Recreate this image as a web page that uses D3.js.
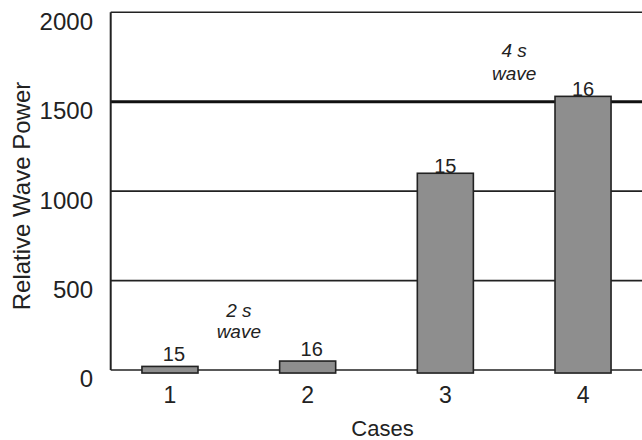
<!DOCTYPE html>
<html>
<head>
<meta charset="utf-8">
<script src="https://cdn.jsdelivr.net/npm/d3@7"></script>
<style>
  html, body { margin: 0; padding: 0; background: #fff; }
  svg { display: block; font-family: "Liberation Sans", Arial, Helvetica, sans-serif; }
</style>
</head>
<body>
<svg id="chart" width="642" height="440"></svg>
<script>
// Relative wave power for each test case
const cases = ["1", "2", "3", "4"];
const power = [20, 50, 1100, 1530];
const runLabels = ["15", "16", "15", "16"];
const yTicks = [0, 500, 1000, 1500, 2000];
const gridValues = [500, 1000];
const thresholdValue = 1500;
const barBase = -17;

// Wave-period notes: placed between two cases at a given power level
const noteText = ["2 s", "wave", "4 s", "wave"];
const noteBetween = [["1", "2"], ["1", "2"], ["3", "4"], ["3", "4"]];
const noteLevel = [335, 218, 1790, 1660];

const svg = d3.select("#chart");
const plotLeft = 110.7, plotRight = 642.3, plotTop = 12.3, plotBottom = 370;

const x = d3.scaleBand().domain(cases).range([plotLeft, plotRight])
  .paddingInner(0.593).paddingOuter(0.227);
const y = d3.scaleLinear().domain([0, 2000]).range([plotBottom, plotTop]);

const ink = "#222";

// grid lines
svg.append("g").selectAll("line").data(gridValues).join("line")
  .attr("x1", plotLeft).attr("x2", plotRight)
  .attr("y1", d => y(d)).attr("y2", d => y(d))
  .attr("stroke", ink).attr("stroke-width", 1.6);

// top frame line
svg.append("line")
  .attr("x1", plotLeft).attr("x2", plotRight)
  .attr("y1", y(2000)).attr("y2", y(2000))
  .attr("stroke", ink).attr("stroke-width", 1.6);

// threshold line
svg.append("line")
  .attr("x1", plotLeft).attr("x2", plotRight)
  .attr("y1", y(thresholdValue)).attr("y2", y(thresholdValue))
  .attr("stroke", "#111").attr("stroke-width", 3.2);

// baseline
svg.append("line")
  .attr("x1", plotLeft).attr("x2", plotRight)
  .attr("y1", y(0)).attr("y2", y(0))
  .attr("stroke", ink).attr("stroke-width", 1.6);

// y axis line
svg.append("line")
  .attr("x1", plotLeft).attr("x2", plotLeft)
  .attr("y1", y(2000)).attr("y2", y(0))
  .attr("stroke", ink).attr("stroke-width", 2);

// bars
const data = cases.map((c, i) => ({ c, v: power[i], label: runLabels[i] }));
svg.append("g").selectAll("rect").data(data).join("rect")
  .attr("x", d => x(d.c))
  .attr("width", x.bandwidth())
  .attr("y", d => y(d.v))
  .attr("height", d => y(barBase) - y(d.v))
  .attr("fill", "#8e8e8e")
  .attr("stroke", ink).attr("stroke-width", 1.6);

// run labels above bars
svg.append("g").selectAll("text").data(data).join("text")
  .attr("x", d => x(d.c) + x.bandwidth() / 2 + (d.v < 100 ? 4 : 0))
  .attr("y", d => y(d.v) - (d.v < 100 ? 5 : 0))
  .attr("text-anchor", "middle")
  .attr("font-size", 20).attr("fill", ink)
  .text(d => d.label);

// y tick labels
svg.append("g").selectAll("text").data(yTicks).join("text")
  .attr("x", 93)
  .attr("y", d => y(d) + 9)
  .attr("dy", "0.35em")
  .attr("text-anchor", "end")
  .attr("font-size", 24).attr("fill", ink)
  .text(d => d);

// x tick labels
svg.append("g").selectAll("text").data(cases).join("text")
  .attr("x", d => x(d) + x.bandwidth() / 2)
  .attr("y", y(0) + 25)
  .attr("dy", "0.35em")
  .attr("text-anchor", "middle")
  .attr("font-size", 23).attr("fill", ink)
  .text(d => d);

// axis titles
svg.append("text")
  .attr("x", (plotLeft + plotRight) / 2 + 6)
  .attr("y", 436)
  .attr("text-anchor", "middle")
  .attr("font-size", 22).attr("fill", ink)
  .text("Cases");

svg.append("text")
  .attr("transform", `translate(22,196) rotate(-90)`)
  .attr("dy", "0.35em")
  .attr("text-anchor", "middle")
  .attr("font-size", 24).attr("fill", ink)
  .text("Relative Wave Power");

// wave period notes
svg.append("g").selectAll("text").data(noteText).join("text")
  .attr("x", (d, i) => {
    const [a, b] = noteBetween[i];
    return (x(a) + x(b) + x.bandwidth()) / 2;
  })
  .attr("y", (d, i) => y(noteLevel[i]))
  .attr("dy", "0.35em")
  .attr("text-anchor", "middle")
  .attr("font-size", 19).attr("font-style", "italic").attr("fill", ink)
  .text(d => d);
</script>
</body>
</html>
